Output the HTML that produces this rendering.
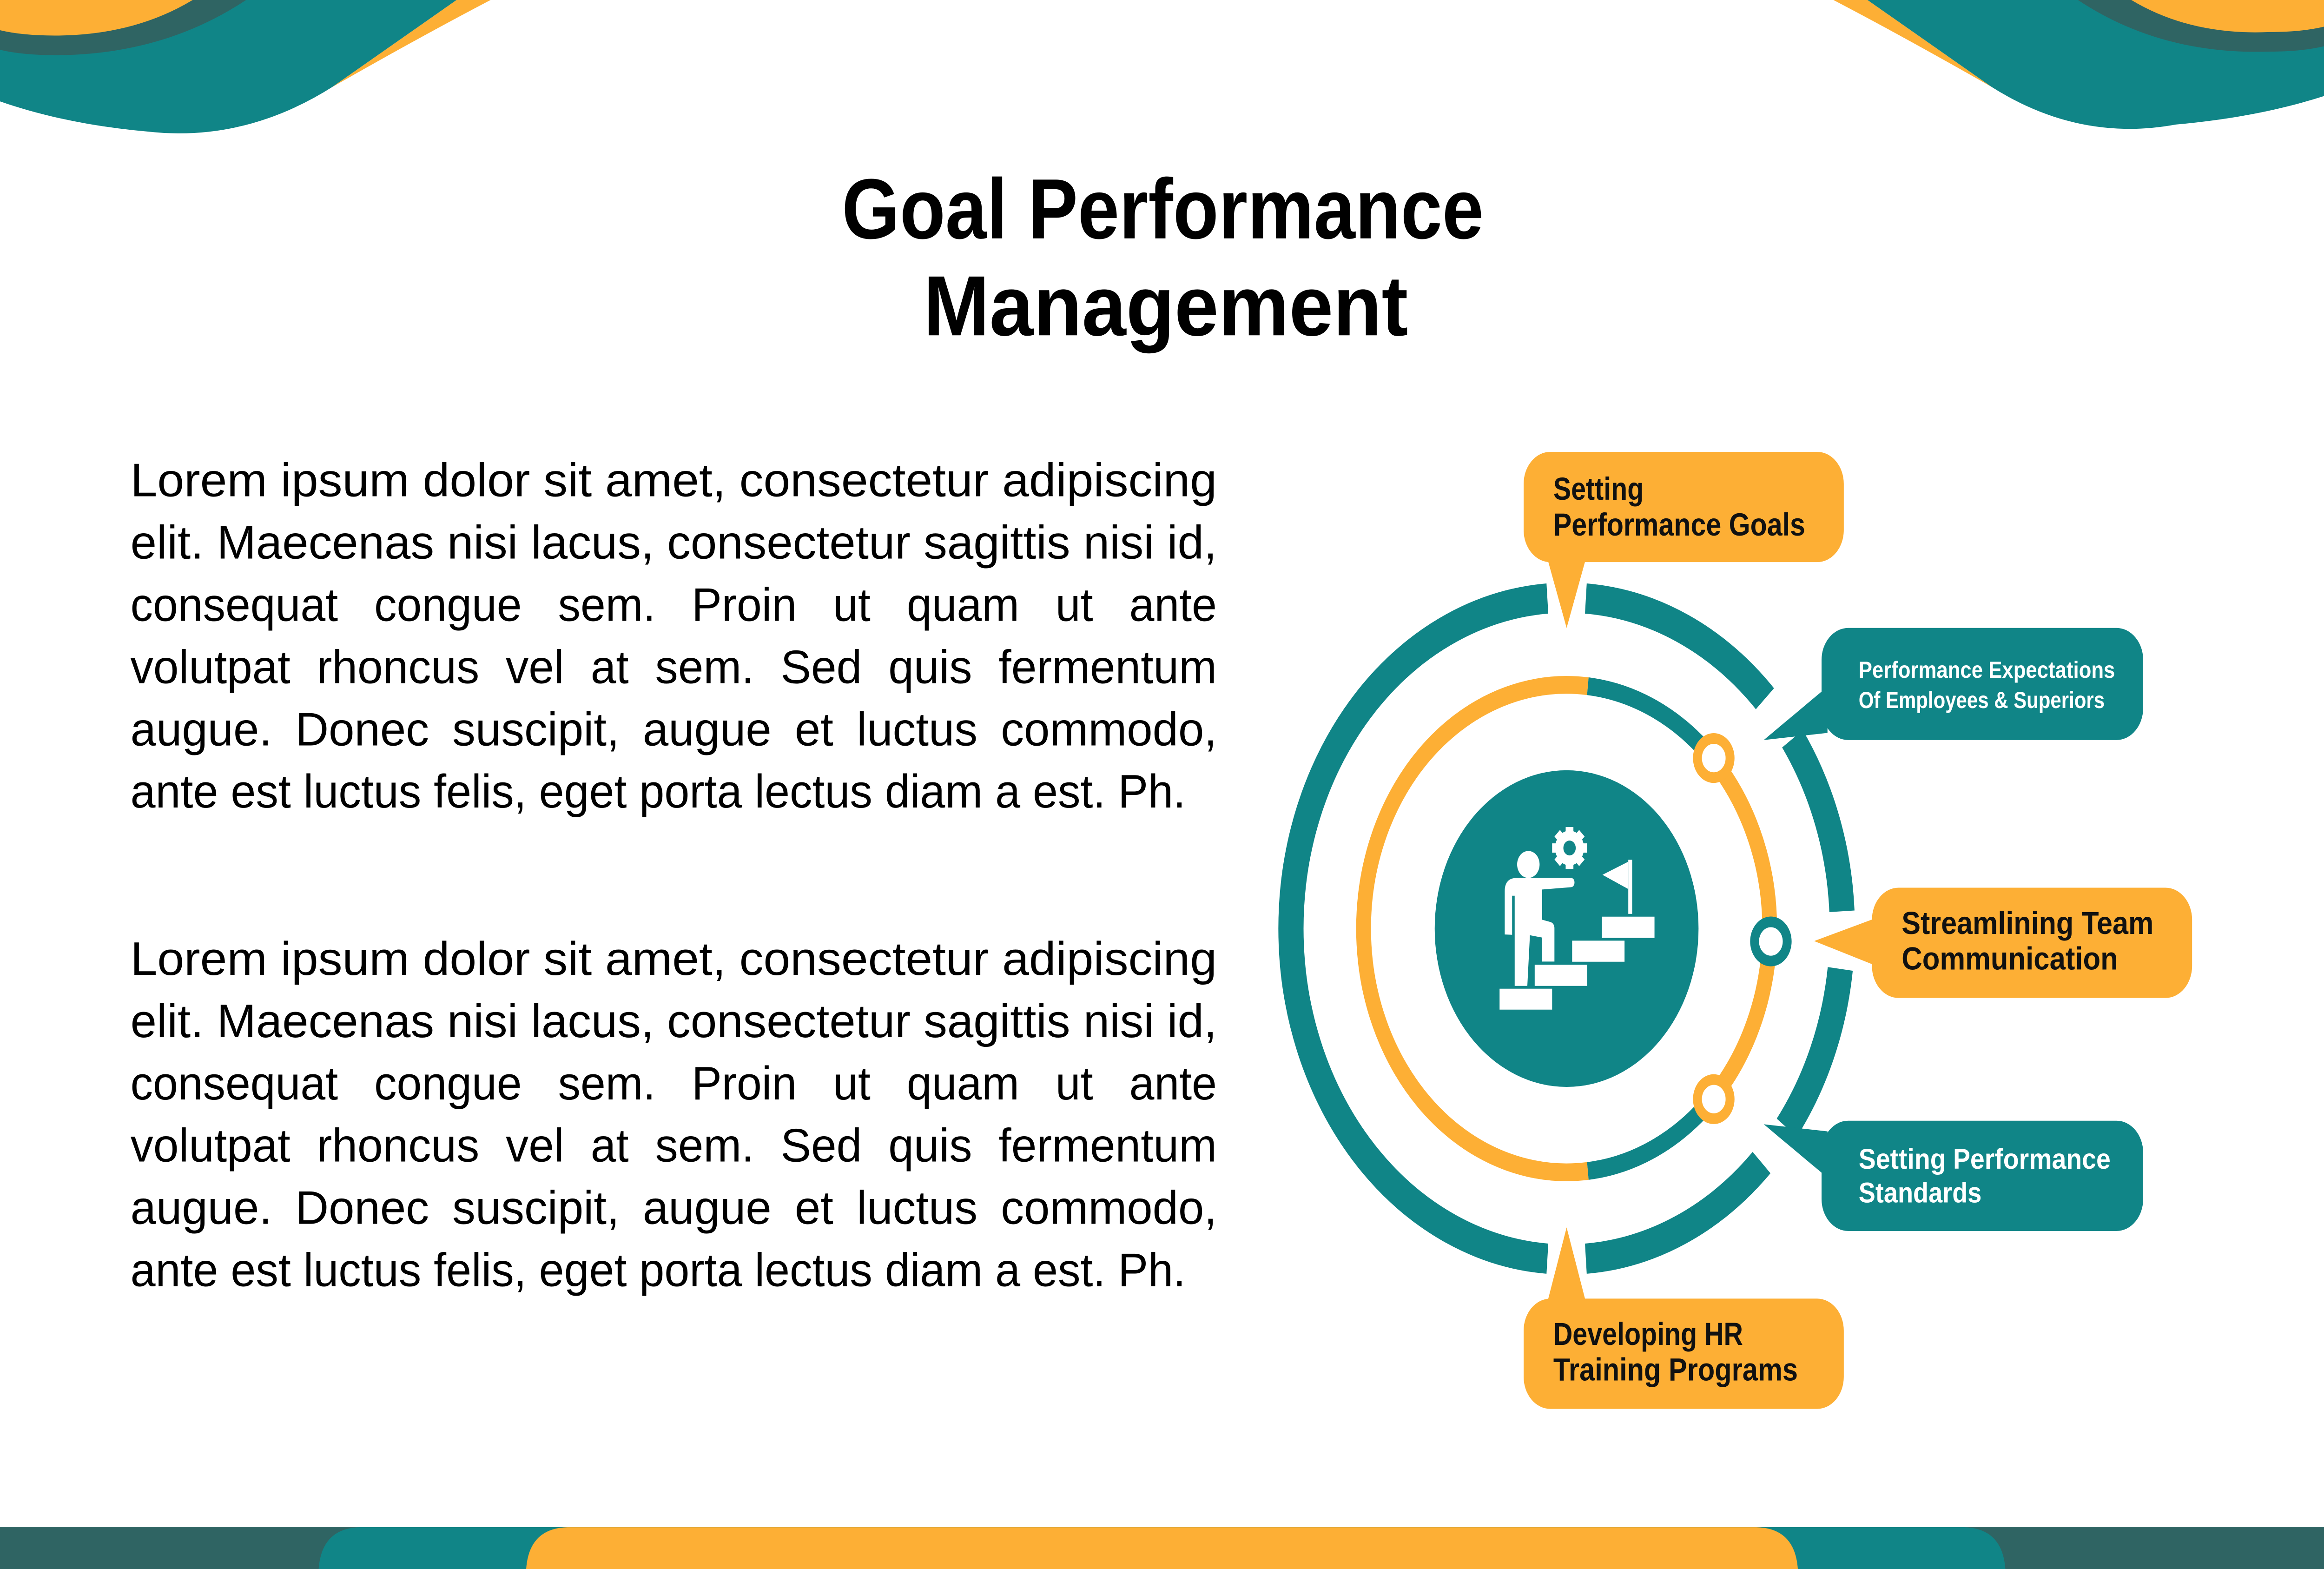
<!DOCTYPE html>
<html><head><meta charset="utf-8">
<style>html,body{margin:0;padding:0;background:#fff;overflow:hidden;width:100%;height:100%}svg{display:block;width:100vw;height:100vh}</style>
</head><body>
<svg xmlns="http://www.w3.org/2000/svg" viewBox="0 0 1568 882" preserveAspectRatio="none" font-family="Liberation Sans, sans-serif">
<rect width="1568" height="882" fill="#fff"/>
<g>
 <path d="M224,49 Q285,20 331,0 L308,0 Z" fill="#FDAF35"/>
 <path d="M0,0 L308,0 L224,49 Q165,80 100,74 Q45,70 0,57 Z" fill="#108587"/>
 <path d="M0,0 L166,0 Q110,31 37,31 Q15,31 0,28 Z" fill="#2F6463"/>
 <path d="M0,0 L130,0 Q90,20 37,20 Q15,20 0,17 Z" fill="#FDAF35"/>
</g>
<g transform="translate(1568,0) scale(-1,1)">
 <path d="M224,49 Q285,20 331,0 L308,0 Z" fill="#FDAF35"/>
 <path d="M0,0 L308,0 L224,49 Q165,80 100,70 Q45,66 0,54 Z" fill="#108587"/>
 <path d="M0,0 L166,0 Q110,31 37,29 Q15,29 0,26 Z" fill="#2F6463"/>
 <path d="M0,0 L130,0 Q90,20 37,18 Q15,18 0,15 Z" fill="#FDAF35"/>
</g>
<g>
 <rect x="0" y="858.5" width="1568" height="24" fill="#2F6463"/>
 <path d="M215,882 Q217,859 243,858.5 L1325,858.5 Q1351,859 1353,882 Z" fill="#108587"/>
 <path d="M355,882 Q357,859 383,858.5 L1185,858.5 Q1211,859 1213,882 Z" fill="#FDAF35"/>
</g>
<g font-weight="bold" font-size="48" fill="#000">
 <text x="568" y="134" textLength="433" lengthAdjust="spacingAndGlyphs">Goal Performance</text>
 <text x="623" y="188.5" textLength="327" lengthAdjust="spacingAndGlyphs">Management</text>
</g>
<g font-size="26.5" fill="#000">
 <g>
 <text x="88" y="279" textLength="733" lengthAdjust="spacingAndGlyphs">Lorem ipsum dolor sit amet, consectetur adipiscing</text>
 <text x="88" y="314" textLength="733" lengthAdjust="spacingAndGlyphs">elit. Maecenas nisi lacus, consectetur sagittis nisi id,</text>
 <text x="88" y="349" textLength="733" lengthAdjust="spacingAndGlyphs" word-spacing="14">consequat congue sem. Proin ut quam ut ante</text>
 <text x="88" y="384" textLength="733" lengthAdjust="spacingAndGlyphs" word-spacing="8">volutpat rhoncus vel at sem. Sed quis fermentum</text>
 <text x="88" y="419" textLength="733" lengthAdjust="spacingAndGlyphs" word-spacing="6">augue. Donec suscipit, augue et luctus commodo,</text>
 <text x="88" y="454" textLength="712" lengthAdjust="spacingAndGlyphs">ante est luctus felis, eget porta lectus diam a est. Ph.</text>
 </g>
 <g>
 <text x="88" y="548" textLength="733" lengthAdjust="spacingAndGlyphs">Lorem ipsum dolor sit amet, consectetur adipiscing</text>
 <text x="88" y="583" textLength="733" lengthAdjust="spacingAndGlyphs">elit. Maecenas nisi lacus, consectetur sagittis nisi id,</text>
 <text x="88" y="618" textLength="733" lengthAdjust="spacingAndGlyphs" word-spacing="14">consequat congue sem. Proin ut quam ut ante</text>
 <text x="88" y="653" textLength="733" lengthAdjust="spacingAndGlyphs" word-spacing="8">volutpat rhoncus vel at sem. Sed quis fermentum</text>
 <text x="88" y="688" textLength="733" lengthAdjust="spacingAndGlyphs" word-spacing="6">augue. Donec suscipit, augue et luctus commodo,</text>
 <text x="88" y="723" textLength="712" lengthAdjust="spacingAndGlyphs">ante est luctus felis, eget porta lectus diam a est. Ph.</text>
 </g>
</g>
<g id="rings"></g>
<circle cx="1057" cy="522" r="89" fill="#108587"/>
<g fill="#fff" transform="translate(1006.1,444.3) scale(0.0871)">
 <rect x="65" y="1280" width="407" height="135"/>
 <rect x="337" y="1125" width="406" height="137"/>
 <rect x="627" y="970" width="406" height="136"/>
 <rect x="858" y="815" width="407" height="137"/>
 <rect x="1062" y="448" width="30" height="349"/>
 <path d="M862,545 L1062,460 L1062,637 Z"/>
 <circle cx="288" cy="478" r="87"/>
 <path d="M105,930 L105,650 Q105,565 200,565 L620,565 Q648,570 645,600 Q640,622 620,625 L395,640 L395,835 L460,850 Q490,860 490,890 L490,1105 L395,1105 L395,950 L300,935 L280,1262 L182,1262 L182,680 L162,680 L162,932 Z"/>
 <g transform="translate(607,372)">
  <circle r="112"/>
  <rect x="-30" y="-135" width="60" height="270"/>
  <rect x="-30" y="-135" width="60" height="270" transform="rotate(45)"/>
  <rect x="-30" y="-135" width="60" height="270" transform="rotate(90)"/>
  <rect x="-30" y="-135" width="60" height="270" transform="rotate(135)"/>
  <circle r="48" fill="#108587"/>
 </g>
</g>
<g>
 <rect x="1028" y="254" width="216" height="62" rx="18" fill="#FDAF35"/>
 <path d="M1044,314 L1070,314 L1057,353 Z" fill="#FDAF35"/>
 <text x="1048" y="281" font-size="18" font-weight="bold" fill="#111">Setting</text>
 <text x="1048" y="301" font-size="18" font-weight="bold" fill="#111" textLength="170" lengthAdjust="spacingAndGlyphs">Performance Goals</text>
</g>
<g>
 <rect x="1229" y="353" width="217" height="63" rx="18" fill="#108587"/>
 <path d="M1233,386 L1233,412 L1190,416 Z" fill="#108587"/>
 <text x="1254" y="381" font-size="13" font-weight="bold" fill="#fff" textLength="173" lengthAdjust="spacingAndGlyphs">Performance Expectations</text>
 <text x="1254" y="398" font-size="13" font-weight="bold" fill="#fff" textLength="166" lengthAdjust="spacingAndGlyphs">Of Employees &amp; Superiors</text>
</g>
<g>
 <rect x="1263" y="499" width="216" height="62" rx="18" fill="#FDAF35"/>
 <path d="M1266,516 L1266,543 L1224,529 Z" fill="#FDAF35"/>
 <text x="1283" y="525" font-size="18" font-weight="bold" fill="#111" textLength="170" lengthAdjust="spacingAndGlyphs">Streamlining Team</text>
 <text x="1283" y="545" font-size="18" font-weight="bold" fill="#111" textLength="146" lengthAdjust="spacingAndGlyphs">Communication</text>
</g>
<g>
 <rect x="1229" y="630" width="217" height="62" rx="18" fill="#108587"/>
 <path d="M1233,636 L1233,662 L1190,632 Z" fill="#108587"/>
 <text x="1254" y="657" font-size="16" font-weight="bold" fill="#fff" textLength="170" lengthAdjust="spacingAndGlyphs">Setting Performance</text>
 <text x="1254" y="676" font-size="16" font-weight="bold" fill="#fff" textLength="83" lengthAdjust="spacingAndGlyphs">Standards</text>
</g>
<g>
 <rect x="1028" y="730" width="216" height="62" rx="18" fill="#FDAF35"/>
 <path d="M1044,732 L1070,732 L1057,690 Z" fill="#FDAF35"/>
 <text x="1048" y="756" font-size="18" font-weight="bold" fill="#111" textLength="128" lengthAdjust="spacingAndGlyphs">Developing HR</text>
 <text x="1048" y="776" font-size="18" font-weight="bold" fill="#111" textLength="165" lengthAdjust="spacingAndGlyphs">Training Programs</text>
</g>
</svg>
<script>
const outerStarts=[-86,-35,7,45,94];
const outerEnds=[-44,-3,37,86,266];
const innerStarts=[84,-84,-45,45];
const innerEnds=[276,-45,45,84];
const innerColors=['#FDAF35','#108587','#FDAF35','#108587'];
const nodeAngles=[-44,44,3];
const nodeColors=['#FDAF35','#FDAF35','#108587'];
const CX=1057,CY=522,NS='http://www.w3.org/2000/svg';
const g=document.getElementById('rings');
function pt(r,a){const t=a*Math.PI/180;return [CX+r*Math.cos(t),CY+r*Math.sin(t)];}
function arc(r,a0,a1,col,w,name){
 const p0=pt(r,a0),p1=pt(r,a1);const large=(a1-a0)>180?1:0;
 const p=document.createElementNS(NS,'path');
 p.setAttribute('d','M'+p0[0]+','+p0[1]+' A'+r+','+r+' 0 '+large+' 1 '+p1[0]+','+p1[1]);
 p.setAttribute('fill','none');p.setAttribute('stroke',col);p.setAttribute('stroke-width',w);
 
 
 g.appendChild(p);
}
for(let i=0;i<outerStarts.length;i++)arc(186,outerStarts[i],outerEnds[i],'#108587',17,'outer-ring-segment');
for(let i=0;i<innerStarts.length;i++)arc(137,innerStarts[i],innerEnds[i],innerColors[i],10,'inner-ring-segment');
for(let i=0;i<nodeAngles.length;i++){
 const c=pt(138,nodeAngles[i]);const n=document.createElementNS(NS,'circle');
 n.setAttribute('cx',c[0]);n.setAttribute('cy',c[1]);n.setAttribute('r',11);
 n.setAttribute('fill','#fff');n.setAttribute('stroke',nodeColors[i]);n.setAttribute('stroke-width',6);
 
 
 g.appendChild(n);
}
</script>
</body></html>
